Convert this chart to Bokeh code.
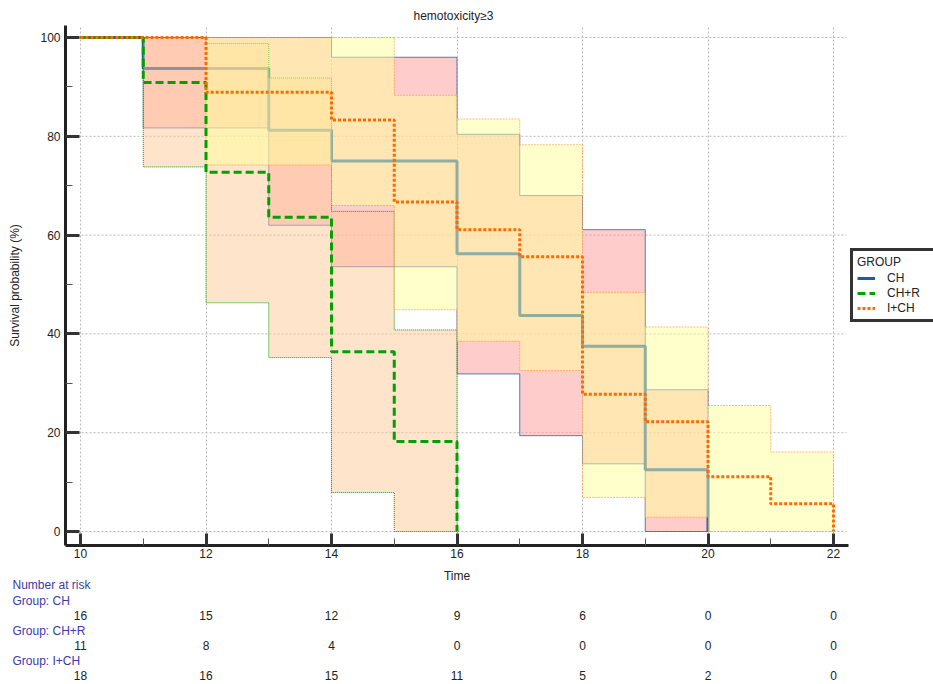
from bokeh.plotting import figure
from bokeh.models import Range1d, FixedTicker, Legend, LegendItem
from bokeh.layouts import column
from bokeh.embed import file_html
from bokeh.resources import INLINE
from bokeh.core.properties import value

# ---------------- data ----------------
title_text = "hemotoxicity\u22653"
x_title = "Time"
y_title = "Survival probability (%)"
group_names = ["CH", "CH+R", "I+CH"]

ch_time = [10, 11, 13, 14, 16, 17, 18, 19, 20]
ch_surv = [100, 93.75, 81.25, 75.0, 56.25, 43.75, 37.5, 12.5, 0]
ch_ci_start = [11, 13, 14, 16, 17, 18, 19]
ch_ci_end = 20
ch_ci_low = [81.7, 62.0, 53.6, 31.9, 19.4, 13.7, 0]
ch_ci_up = [100, 100, 96.0, 80.4, 68.0, 61.1, 28.7]

chr_time = [10, 11, 12, 13, 14, 15, 16]
chr_surv = [100, 90.9, 72.7, 63.6, 36.4, 18.2, 0]
chr_ci_start = [11, 12, 13, 14, 15]
chr_ci_end = 16
chr_ci_low = [73.8, 46.3, 35.2, 7.9, 0]
chr_ci_up = [100, 98.8, 91.8, 64.8, 40.8]

ich_time = [10, 12, 14, 15, 16, 17, 18, 19, 20, 21, 22]
ich_surv = [100, 88.9, 83.3, 66.7, 61.1, 55.6, 27.8, 22.2, 11.1, 5.6, 0]
ich_ci_start = [12, 14, 15, 16, 17, 18, 19, 20, 21]
ich_ci_end = 22
ich_ci_low = [74.2, 66.0, 44.9, 38.5, 32.6, 6.9, 2.9, 0, 0]
ich_ci_up = [100, 100, 88.3, 83.5, 78.3, 48.4, 41.4, 25.5, 16.1]

risk_times = [10, 12, 14, 16, 18, 20, 22]
risk_ch = [16, 15, 12, 9, 6, 0, 0]
risk_chr = [11, 8, 4, 0, 0, 0, 0]
risk_ich = [18, 16, 15, 11, 5, 2, 0]

x_ticks = [10, 12, 14, 16, 18, 20, 22]
x_minor = [11, 13, 15, 17, 19, 21]
y_ticks = [0, 20, 40, 60, 80, 100]
y_minor = [10, 30, 50, 70, 90]

# ---------------- layout ----------------
FONT = "Liberation Sans"
W = 933
LEFT = 65
FRAME_W = W - LEFT          # frame runs to the right edge (legend lives inside)
AXIS_W = 783                # visible extent of x axis
GRID_W = 781                # visible extent of horizontal grid
TOP, FRAME_H, BOTTOM = 25, 520, 18
H1 = TOP + FRAME_H + BOTTOM
H2 = 684 - H1
PX = 62.75           # pixels per time unit
X_OFF = 15           # pixels from axis to time 10
x_start = x_ticks[0] - X_OFF / PX
x_end = x_start + FRAME_W / PX
x_axis_end = x_start + AXIS_W / PX
x_grid_end = x_start + GRID_W / PX


def band(starts, end, low, up):
    ends = starts[1:] + [end]
    xs, ys = [], []
    for s, e, u in zip(starts, ends, up):
        xs += [s, e]
        ys += [u, u]
    for s, e, l in reversed(list(zip(starts, ends, low))):
        xs += [e, s]
        ys += [l, l]
    return xs, ys


p = figure(width=W, height=H1, output_backend="svg", toolbar_location=None,
           x_range=Range1d(x_start, x_end), y_range=Range1d(-2.83, 102.43),
           min_border_left=LEFT, min_border_right=0,
           min_border_top=TOP, min_border_bottom=BOTTOM)
p.outline_line_color = None
p.background_fill_color = "white"
p.border_fill_color = "white"

p.title.text = title_text
p.title.align = "left"
p.title.offset = 413 - LEFT
p.title.text_font = FONT
p.title.text_font_size = "12px"
p.title.text_font_style = "normal"
p.title.text_color = "#222222"
p.title.standoff = 6

# horizontal grid lines limited to the axis extent
p.ygrid.visible = False
p.segment(x0=[x_start] * len(y_ticks), x1=[x_grid_end] * len(y_ticks),
          y0=y_ticks, y1=y_ticks, line_color="#b8b8b8", line_width=1,
          line_dash="2 2")

# CH band + line
bx, by = band(ch_ci_start, ch_ci_end, ch_ci_low, ch_ci_up)
p.patch(bx, by, fill_color="#ff9999", fill_alpha=0.5,
        line_color="#2f5fa8", line_width=1, line_alpha=0.8)
r_ch = p.step(ch_time, ch_surv, mode="after", line_color="#1f5aa6", line_width=3)

# CH+R band
bx, by = band(chr_ci_start, chr_ci_end, chr_ci_low, chr_ci_up)
p.patch(bx, by, fill_color="#ffc999", fill_alpha=0.5,
        line_color="#00a000", line_width=1, line_dash="1 1")

# I+CH band
bx, by = band(ich_ci_start, ich_ci_end, ich_ci_low, ich_ci_up)
p.patch(bx, by, fill_color="#ffff99", fill_alpha=0.5,
        line_color="#ff9040", line_width=1, line_alpha=0.6, line_dash="2 1")

r_chr = p.step(chr_time, chr_surv, mode="after", line_color="#00a000",
               line_width=3, line_dash="8 4")
r_ich = p.step(ich_time, ich_surv, mode="after", line_color="#ff6a00",
               line_width=3, line_dash="3 2")

# axes
p.xaxis.ticker = FixedTicker(ticks=x_ticks, minor_ticks=x_minor)
p.yaxis.ticker = FixedTicker(ticks=y_ticks, minor_ticks=y_minor)
p.xaxis.bounds = (x_start, x_axis_end)
p.xgrid.ticker = FixedTicker(ticks=x_ticks)
p.xgrid.grid_line_color = "#b8b8b8"
p.xgrid.grid_line_dash = "2 2"
p.xgrid.grid_line_width = 1

for ax in (p.xaxis, p.yaxis):
    ax.axis_line_width = 3
    ax.axis_line_color = "#222222"
    ax.major_tick_line_width = 3
    ax.major_tick_line_color = "#333333"
    ax.major_tick_out = 0
    ax.minor_tick_line_width = 1
    ax.minor_tick_line_color = "#555555"
    ax.minor_tick_in = 7
    ax.minor_tick_out = 0
    ax.major_label_text_font = FONT
    ax.major_label_text_font_size = "12px"
    ax.major_label_text_color = "#222222"
    ax.axis_label_text_font = FONT
    ax.axis_label_text_font_size = "12px"
    ax.axis_label_text_font_style = "normal"
    ax.axis_label_text_color = "#222222"

p.xaxis.major_tick_in = 12
p.yaxis.major_tick_in = 14
p.xaxis.major_label_standoff = 3
p.yaxis.major_label_standoff = 5
p.yaxis.axis_label = y_title
p.yaxis.axis_label_standoff = 15

# legend (inside the frame, to the right of the curves)
legend = Legend(items=[LegendItem(label=group_names[0], renderers=[r_ch]),
                       LegendItem(label=group_names[1], renderers=[r_chr]),
                       LegendItem(label=group_names[2], renderers=[r_ich])],
                location=(850 - LEFT, 545 - 322), title="GROUP",
                title_text_font=FONT, title_text_font_size="12px",
                title_text_font_style="normal", title_text_color="#222222",
                title_standoff=2,
                label_text_font=FONT, label_text_font_size="12px",
                label_text_color="#222222",
                label_height=14, glyph_height=14, glyph_width=18,
                label_width=60,
                label_standoff=12, spacing=1, padding=4, margin=0,
                border_line_color="#333333", border_line_width=3,
                border_line_alpha=1,
                background_fill_color="white", background_fill_alpha=1)
p.add_layout(legend)

# ---------------- x title + number at risk ----------------
rs_start = x_ticks[0] - (LEFT + X_OFF) / PX
rs_end = rs_start + W / PX
q = figure(width=W, height=H2, output_backend="svg", toolbar_location=None,
           x_range=Range1d(rs_start, rs_end), y_range=Range1d(H2, 0),
           min_border_left=0, min_border_right=0, min_border_top=0,
           min_border_bottom=0)
q.frame_align = False
q.xaxis.visible = False
q.yaxis.visible = False
q.grid.visible = False
q.outline_line_color = None

# x axis title, centred under the time axis
q.text(x=[(x_ticks[0] + x_ticks[-1]) / 2], y=[12], text=[x_title],
       text_font=value(FONT), text_font_size="12px", text_color="#222222",
       text_align="center", text_baseline="middle")

row_y = [21.5, 37, 51.7, 67, 82, 97.5, 112]
hx = rs_start + 12 / PX
headers = ["Number at risk", "Group: " + group_names[0],
           "Group: " + group_names[1], "Group: " + group_names[2]]
q.text(x=[hx] * 4, y=[row_y[0], row_y[1], row_y[3], row_y[5]], text=headers,
       text_font=value(FONT), text_font_size="12px", text_color="#3a3aa8",
       text_align="left", text_baseline="middle")
for vals, ry in ((risk_ch, row_y[2]), (risk_chr, row_y[4]), (risk_ich, row_y[6])):
    q.text(x=risk_times, y=[ry] * len(risk_times), text=[str(v) for v in vals],
           text_font=value(FONT), text_font_size="12px", text_color="#222222",
           text_align="center", text_baseline="middle")

layout = column(p, q, spacing=0)
open("out.html", "w").write(file_html(layout, INLINE))
